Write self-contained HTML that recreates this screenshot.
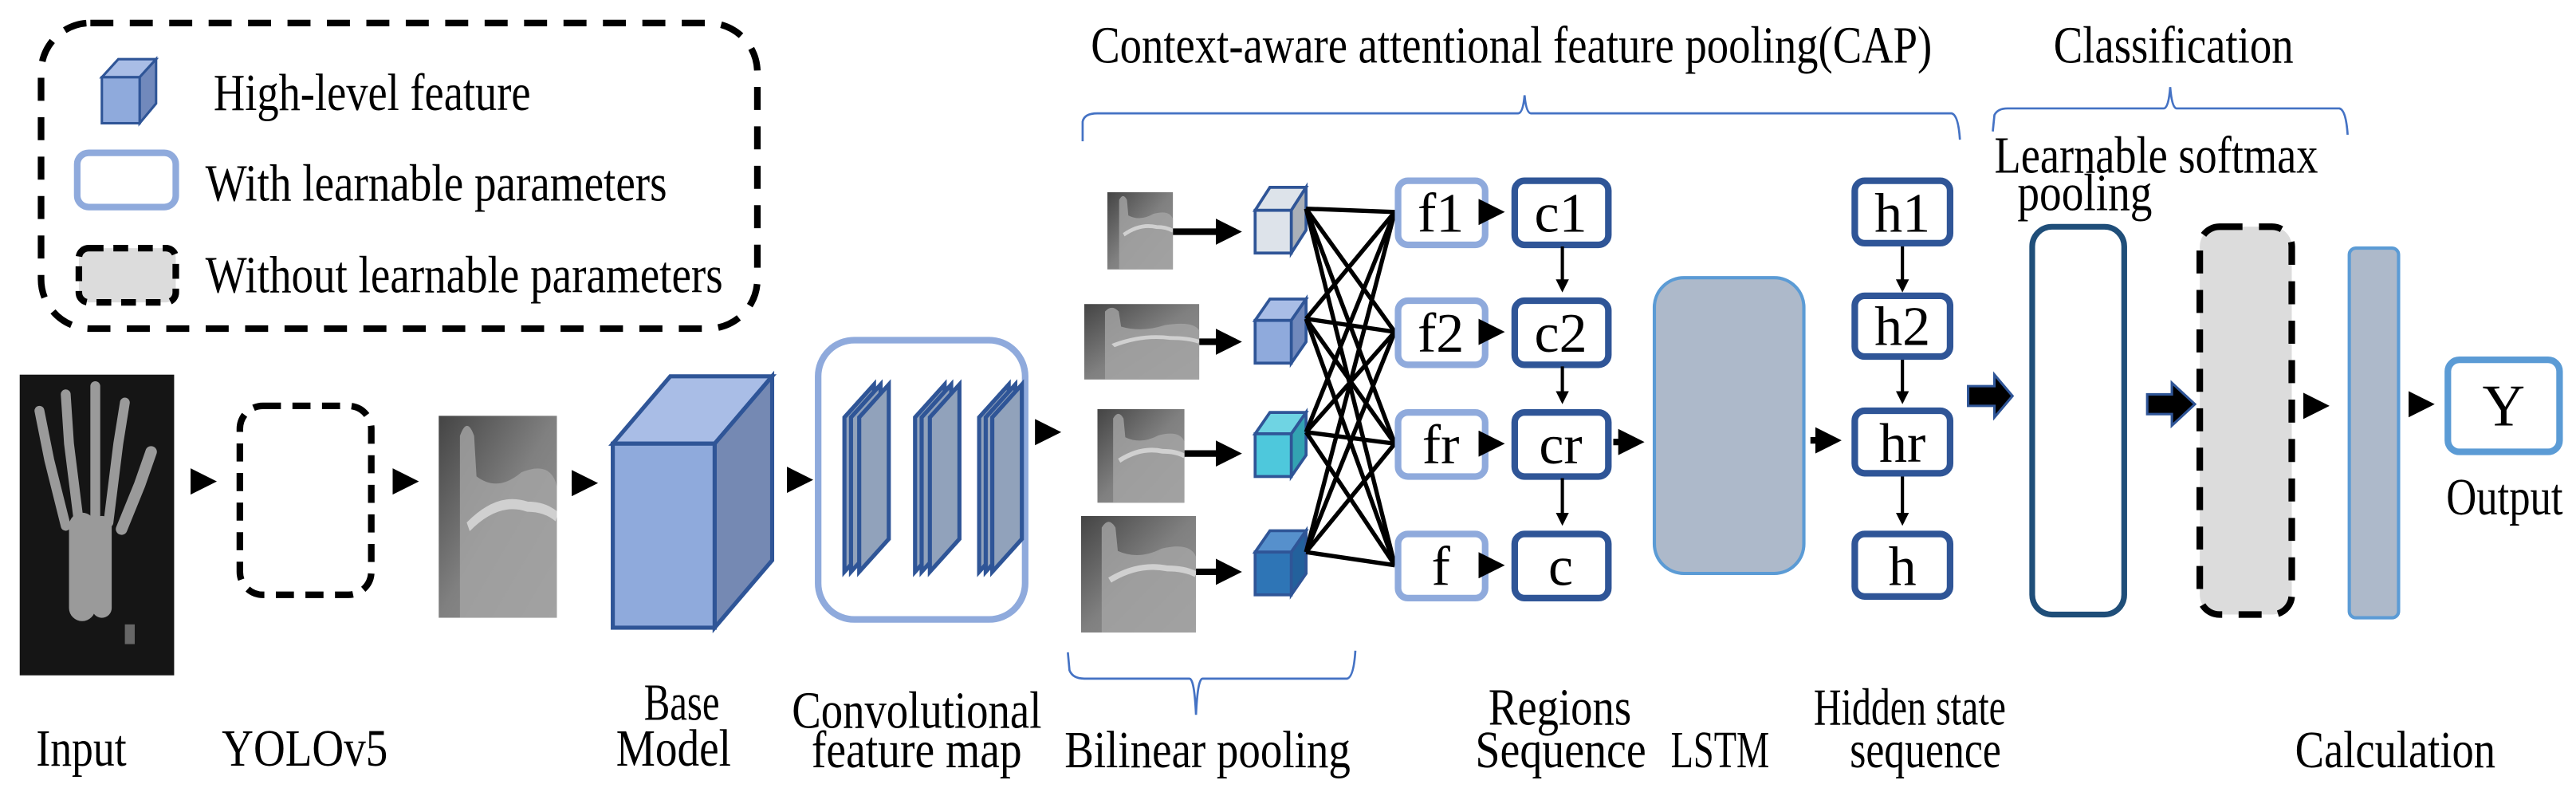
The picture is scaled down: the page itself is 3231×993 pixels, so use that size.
<!DOCTYPE html>
<html><head><meta charset="utf-8"><style>
html,body{margin:0;padding:0;background:#fff;}
svg{display:block;}
svg text{font-family:'Liberation Serif','Times New Roman','DejaVu Serif',serif !important;}
</style></head><body>
<svg width="3231" height="993" viewBox="0 0 1568 482" preserveAspectRatio="none" xmlns="http://www.w3.org/2000/svg" font-family="'Liberation Serif','DejaVu Serif',serif">
<defs>
<marker id="ah" markerWidth="4" markerHeight="4" refX="3" refY="2" orient="auto" markerUnits="strokeWidth"><path d="M0,0 L4,2 L0,4 z" fill="#000"/></marker>
<linearGradient id="xr" x1="0" y1="0" x2="1" y2="1"><stop offset="0" stop-color="#444"/><stop offset="0.5" stop-color="#808080"/><stop offset="1" stop-color="#959595"/></linearGradient>
<g id="bone">
<rect x="0" y="0" width="100" height="100" fill="url(#xr)"/>
<path d="M18,100 L18,10 Q24,0 30,10 L32,30 Q50,38 70,28 Q95,22 100,35 L100,100 z" fill="#a5a5a5" opacity="0.8"/>
<path d="M25,55 Q50,40 75,45 Q90,45 100,50" stroke="#d0d0d0" stroke-width="5" fill="none"/>
</g>
</defs>
<g font-size="32" fill="#000">
<rect x="25" y="14" width="436" height="186" rx="30" fill="none" stroke="#000" stroke-width="4" stroke-dasharray="14,10"/>
<g stroke="#2f5597" stroke-width="1.5">
<polygon points="62,47 72,36 95,36 85,47" fill="#a9bde6"/>
<polygon points="85,47 95,36 95,63 85,75" fill="#7189bc"/>
<rect x="62" y="47" width="23" height="28" fill="#8faadc"/>
</g>
<text x="130" y="67" textLength="193" lengthAdjust="spacingAndGlyphs">High-level feature</text>
<rect x="47" y="93" width="60" height="33" rx="7" fill="#fff" stroke="#8faadc" stroke-width="4"/>
<text x="125" y="122" textLength="281" lengthAdjust="spacingAndGlyphs">With learnable parameters</text>
<rect x="48" y="151" width="59" height="33" rx="6" fill="#dcdcdc" stroke="#000" stroke-width="4" stroke-dasharray="9,6"/>
<text x="125" y="178" textLength="315" lengthAdjust="spacingAndGlyphs">Without learnable parameters</text>

<rect x="12" y="228" width="94" height="183" fill="#151515"/>
<g stroke="#9a9a9a" stroke-linecap="round" fill="none">
<path d="M50,370 L50,320" stroke-width="16"/>
<path d="M62,370 L62,320" stroke-width="12"/>
<path d="M40,320 L30,280 L24,250" stroke-width="6"/>
<path d="M48,318 L42,270 L40,240" stroke-width="6"/>
<path d="M58,318 L58,265 L58,235" stroke-width="6"/>
<path d="M66,318 L72,270 L76,245" stroke-width="6"/>
<path d="M74,322 L85,295 L92,275" stroke-width="7"/>
</g>
<rect x="76" y="380" width="6" height="12" fill="#666"/>
<text x="22" y="466" textLength="55" lengthAdjust="spacingAndGlyphs">Input</text>

<g stroke="#000" stroke-width="4" marker-end="url(#ah)">
<line x1="117" y1="293" x2="128" y2="293"/>
<line x1="240" y1="293" x2="251" y2="293"/>
<line x1="348" y1="294" x2="360" y2="294"/>
<line x1="480" y1="292" x2="491" y2="292"/>
<line x1="631" y1="263" x2="642" y2="263"/>
</g>

<rect x="146" y="247" width="80" height="115" rx="14" fill="none" stroke="#000" stroke-width="4" stroke-dasharray="11,7"/>
<text x="135" y="466" textLength="101" lengthAdjust="spacingAndGlyphs">YOLOv5</text>

<svg x="267" y="253" width="72" height="123" viewBox="0 0 100 100" preserveAspectRatio="none"><use href="#bone"/></svg>

<g stroke="#2f5597" stroke-width="2.5">
<polygon points="373,270 408,229 470,229 435,270" fill="#a9bde6"/>
<polygon points="435,270 470,229 470,341 435,382" fill="#7589b3"/>
<rect x="373" y="270" width="62" height="112" fill="#8faadc"/>
</g>
<text x="392" y="438" textLength="46" lengthAdjust="spacingAndGlyphs">Base</text>
<text x="375" y="466" textLength="70" lengthAdjust="spacingAndGlyphs">Model</text>

<rect x="498" y="207" width="126" height="170" rx="22" fill="#fff" stroke="#8faadc" stroke-width="4"/>
<g stroke="#2f5597" stroke-width="2.5" fill="#91a2bb">
<polygon points="514,254 532,234 532,328 514,348"/>
<polygon points="518,254 536,234 536,328 518,348"/>
<polygon points="523,254 541,234 541,328 523,348"/>
<polygon points="557,254 575,234 575,328 557,348"/>
<polygon points="561,254 579,234 579,328 561,348"/>
<polygon points="566,254 584,234 584,328 566,348"/>
<polygon points="596,254 614,234 614,328 596,348"/>
<polygon points="600,254 618,234 618,328 600,348"/>
<polygon points="604,254 622,234 622,328 604,348"/>
</g>
<text x="482" y="443" textLength="152" lengthAdjust="spacingAndGlyphs">Convolutional</text>
<text x="494" y="467" textLength="128" lengthAdjust="spacingAndGlyphs">feature map</text>

<path d="M659,86 L659,74 Q660,69 668,69 L924,69 Q927,69 928,58 Q929,69 932,69 L1188,69 Q1192,70 1193,85" fill="none" stroke="#4472c4" stroke-width="1.3"/>
<text x="664" y="38" textLength="512" lengthAdjust="spacingAndGlyphs">Context-aware attentional feature pooling(CAP)</text>
<path d="M1213,80 L1214,70 Q1216,66 1222,66 L1317,66 Q1320,66 1321,53 Q1322,66 1325,66 L1424,66 Q1428,67 1429,82" fill="none" stroke="#4472c4" stroke-width="1.3"/>
<text x="1250" y="38" textLength="146" lengthAdjust="spacingAndGlyphs">Classification</text>
<path d="M650,397 L651,408 Q653,413 660,413 L724,413 Q727,413 728,435 Q729,413 732,413 L820,413 Q824,412 825,396" fill="none" stroke="#4472c4" stroke-width="1.3"/>
<text x="648" y="467" textLength="174" lengthAdjust="spacingAndGlyphs">Bilinear pooling</text>

<svg x="674" y="117" width="40" height="47" viewBox="0 0 100 100" preserveAspectRatio="none"><use href="#bone"/></svg>
<svg x="660" y="185" width="70" height="46" viewBox="0 0 100 100" preserveAspectRatio="none"><use href="#bone"/></svg>
<svg x="668" y="249" width="53" height="57" viewBox="0 0 100 100" preserveAspectRatio="none"><use href="#bone"/></svg>
<svg x="658" y="314" width="70" height="71" viewBox="0 0 100 100" preserveAspectRatio="none"><use href="#bone"/></svg>
<g stroke="#000" stroke-width="4" marker-end="url(#ah)">
<line x1="714" y1="141" x2="752" y2="141"/>
<line x1="730" y1="208" x2="752" y2="208"/>
<line x1="721" y1="276" x2="752" y2="276"/>
<line x1="728" y1="348" x2="752" y2="348"/>
</g>

<g stroke="#2f5597" stroke-width="1.8">
<polygon points="764,128 773,114 795,114 786,128" fill="#dde3ea"/><polygon points="786,128 795,114 795,140 786,154" fill="#aab0b8"/><rect x="764" y="128" width="22" height="26" fill="#dde3ea"/>
<polygon points="764,195 773,182 795,182 786,195" fill="#a9bde6"/><polygon points="786,195 795,182 795,208 786,221" fill="#7189bc"/><rect x="764" y="195" width="22" height="26" fill="#8faadc"/>
<polygon points="764,264 773,251 795,251 786,264" fill="#6fd4e3"/><polygon points="786,264 795,251 795,277 786,290" fill="#33a3b2"/><rect x="764" y="264" width="22" height="26" fill="#4ec8dc"/>
<polygon points="764,336 773,323 795,323 786,336" fill="#5690cc"/><polygon points="786,336 795,323 795,349 786,362" fill="#23619c"/><rect x="764" y="336" width="22" height="26" fill="#2e75b6"/>
</g>
<g stroke="#000" stroke-width="2.6">
<line x1="795" y1="127" x2="849" y2="129"/><line x1="795" y1="127" x2="849" y2="202"/><line x1="795" y1="127" x2="849" y2="270"/><line x1="795" y1="127" x2="849" y2="344"/>
<line x1="795" y1="194" x2="849" y2="129"/><line x1="795" y1="194" x2="849" y2="202"/><line x1="795" y1="194" x2="849" y2="270"/><line x1="795" y1="194" x2="849" y2="344"/>
<line x1="795" y1="263" x2="849" y2="129"/><line x1="795" y1="263" x2="849" y2="202"/><line x1="795" y1="263" x2="849" y2="270"/><line x1="795" y1="263" x2="849" y2="344"/>
<line x1="795" y1="336" x2="849" y2="129"/><line x1="795" y1="336" x2="849" y2="202"/><line x1="795" y1="336" x2="849" y2="270"/><line x1="795" y1="336" x2="849" y2="344"/>
</g>

<g fill="#fff" stroke="#8faadc" stroke-width="4">
<rect x="851" y="110" width="53" height="39" rx="6"/>
<rect x="851" y="183" width="53" height="39" rx="6"/>
<rect x="851" y="251" width="53" height="39" rx="6"/>
<rect x="851" y="325" width="53" height="39" rx="6"/>
</g>
<g fill="#fff" stroke="#2f5597" stroke-width="4">
<rect x="922" y="110" width="57" height="39" rx="6"/>
<rect x="922" y="183" width="57" height="39" rx="6"/>
<rect x="922" y="251" width="57" height="39" rx="6"/>
<rect x="922" y="325" width="57" height="39" rx="6"/>
</g>
<g font-size="34" text-anchor="middle">
<text x="877" y="141">f1</text><text x="877" y="214">f2</text><text x="877" y="282">fr</text><text x="877" y="356">f</text>
<text x="950" y="141">c1</text><text x="950" y="214">c2</text><text x="950" y="282">cr</text><text x="950" y="356">c</text>
</g>
<g stroke="#000" stroke-width="4" marker-end="url(#ah)">
<line x1="905" y1="129" x2="912" y2="129"/><line x1="905" y1="202" x2="912" y2="202"/><line x1="905" y1="270" x2="912" y2="270"/><line x1="905" y1="344" x2="912" y2="344"/>
<line x1="982" y1="269" x2="997" y2="269"/>
<line x1="1102" y1="268" x2="1117" y2="268"/>
</g>
<g stroke="#000" stroke-width="2" marker-end="url(#ah)">
<line x1="951" y1="150" x2="951" y2="176"/><line x1="951" y1="223" x2="951" y2="244"/><line x1="951" y1="291" x2="951" y2="318"/>
<line x1="1158" y1="150" x2="1158" y2="176"/><line x1="1158" y1="218" x2="1158" y2="244"/><line x1="1158" y1="290" x2="1158" y2="318"/>
</g>
<text x="906" y="441" textLength="87" lengthAdjust="spacingAndGlyphs">Regions</text>
<text x="898" y="467" textLength="104" lengthAdjust="spacingAndGlyphs">Sequence</text>

<rect x="1007" y="169" width="91" height="180" rx="18" fill="#adb9ca" stroke="#5b9bd5" stroke-width="2"/>
<text x="1017" y="467" textLength="60" lengthAdjust="spacingAndGlyphs">LSTM</text>

<g fill="#fff" stroke="#2f5597" stroke-width="4">
<rect x="1129" y="110" width="58" height="38" rx="6"/>
<rect x="1129" y="180" width="58" height="37" rx="6"/>
<rect x="1129" y="250" width="58" height="38" rx="6"/>
<rect x="1129" y="325" width="58" height="38" rx="6"/>
</g>
<g font-size="34" text-anchor="middle">
<text x="1158" y="141">h1</text><text x="1158" y="210">h2</text><text x="1158" y="281">hr</text><text x="1158" y="356">h</text>
</g>
<text x="1104" y="441" textLength="117" lengthAdjust="spacingAndGlyphs">Hidden state</text>
<text x="1126" y="467" textLength="92" lengthAdjust="spacingAndGlyphs">sequence</text>

<polygon points="1198,235 1214,235 1214,228 1225,241 1214,254 1214,247 1198,247" fill="#000" stroke="#2f5597" stroke-width="1.5"/>
<polygon points="1307,240 1322,240 1322,233 1336,246 1322,259 1322,252 1307,252" fill="#000" stroke="#2f5597" stroke-width="1.5"/>
<g stroke="#000" stroke-width="4" marker-end="url(#ah)">
<line x1="1403" y1="247" x2="1414" y2="247"/>
<line x1="1467" y1="246" x2="1478" y2="246"/>
</g>

<text x="1214" y="105" textLength="197" lengthAdjust="spacingAndGlyphs">Learnable softmax</text>
<text x="1228" y="128" textLength="82" lengthAdjust="spacingAndGlyphs">pooling</text>
<rect x="1237" y="138" width="56" height="236" rx="12" fill="#fff" stroke="#1f4e79" stroke-width="3.5"/>
<rect x="1339" y="138" width="56" height="236" rx="12" fill="#dcdcdc" stroke="#000" stroke-width="4" stroke-dasharray="14,10"/>
<rect x="1430" y="151" width="30" height="225" rx="4" fill="#adb9ca" stroke="#5b9bd5" stroke-width="2"/>
<text x="1397" y="467" textLength="122" lengthAdjust="spacingAndGlyphs">Calculation</text>

<rect x="1490" y="219" width="68" height="56" rx="7" fill="#fff" stroke="#5b9bd5" stroke-width="4"/>
<text x="1524" y="259" font-size="36" text-anchor="middle">Y</text>
<text x="1489" y="313" textLength="71" lengthAdjust="spacingAndGlyphs">Output</text>
</g>
</svg>
</body></html>
